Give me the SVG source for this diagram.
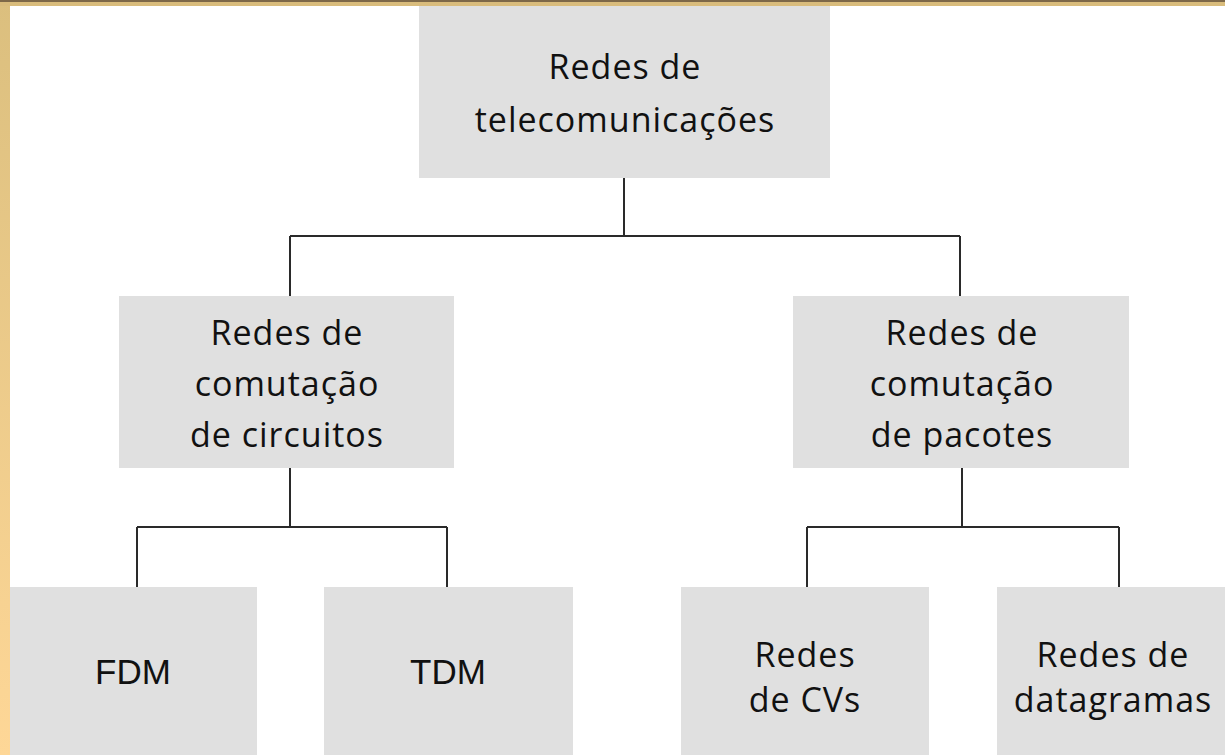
<svg xmlns="http://www.w3.org/2000/svg" width="1225" height="755" viewBox="0 0 1225 755">
<defs>
<linearGradient id="lb" x1="0" y1="0" x2="0" y2="1">
<stop offset="0" stop-color="#dbbf7e"/>
<stop offset="1" stop-color="#fed797"/>
</linearGradient>
<style>
.box{fill:#e0e0e0}
.t{font-family:"Open Sans","Noto Sans",sans-serif;font-size:34px;letter-spacing:1px;fill:#111;text-anchor:middle}
.a{font-family:"Liberation Sans",Arial,sans-serif;font-size:35px;fill:#111;text-anchor:middle}
.c{fill:none;stroke:#2a2a2a;stroke-width:2}
</style>
</defs>
<rect x="0" y="0" width="1225" height="755" fill="#ffffff"/>
<g id="connectors">
<path class="c" d="M624 178V236M290 236H960M290 236V296M960 236V296"/>
<path class="c" d="M290 468V527M137 527H447M137 527V587M447 527V587"/>
<path class="c" d="M962 468V527M807 527H1119M807 527V587M1119 527V587"/>
</g>
<g id="n-telecom">
<rect class="box" x="419" y="0" width="411" height="178"/>
<text class="t" x="625" y="79">Redes de</text>
<text class="t" x="625" y="132">telecomunicações</text>
</g>
<g id="n-circuitos">
<rect class="box" x="119" y="296" width="335" height="172"/>
<text class="t" x="287" y="345">Redes de</text>
<text class="t" x="287" y="396">comutação</text>
<text class="t" x="287" y="447">de circuitos</text>
</g>
<g id="n-pacotes">
<rect class="box" x="793" y="296" width="336" height="172"/>
<text class="t" x="962" y="345">Redes de</text>
<text class="t" x="962" y="396">comutação</text>
<text class="t" x="962" y="447">de pacotes</text>
</g>
<g id="n-fdm">
<rect class="box" x="10" y="587" width="247" height="168"/>
<text class="a" x="133" y="684">FDM</text>
</g>
<g id="n-tdm">
<rect class="box" x="324" y="587" width="249" height="168"/>
<text class="a" x="448" y="684">TDM</text>
</g>
<g id="n-cvs">
<rect class="box" x="681" y="587" width="248" height="168"/>
<text class="t" x="805" y="667">Redes</text>
<text class="t" x="805" y="712">de CVs</text>
</g>
<g id="n-datagramas">
<rect class="box" x="997" y="587" width="228" height="168"/>
<text class="t" x="1113" y="667">Redes de</text>
<text class="t" x="1113" y="712">datagramas</text>
</g>
<g id="frame">
<rect x="0" y="0" width="10" height="755" fill="url(#lb)"/>
<rect x="0" y="0" width="1225" height="6" fill="#d9bc7c"/>
<rect x="0" y="0" width="1225" height="2" fill="#7d6848"/>
</g>
</svg>
